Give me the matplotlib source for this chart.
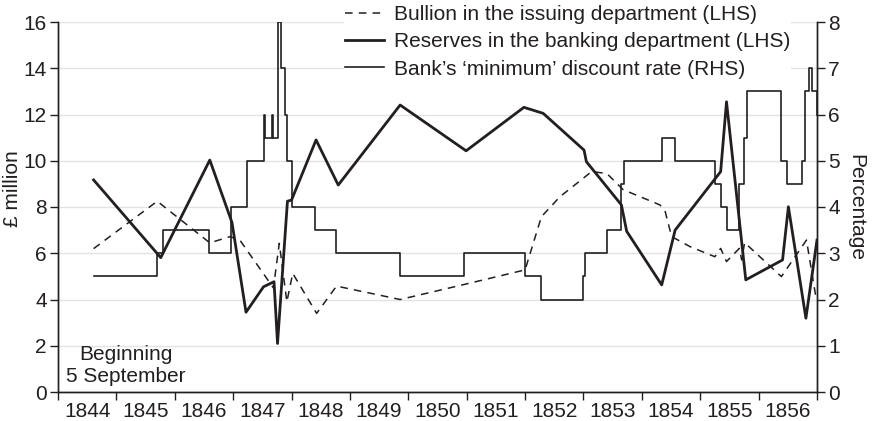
import matplotlib
matplotlib.use("Agg")
import matplotlib.pyplot as plt

plt.rcParams['font.family'] = ['Liberation Sans', 'DejaVu Sans']

# years from the start of the Bank Charter Act data (Sep 1844), 0..13
year_labels = [str(y) for y in range(1844, 1857)]

bullion_t = [0.61, 1.70, 2.60, 2.95, 3.12, 3.69, 3.79, 3.92, 4.02, 4.43, 4.77,
             5.86, 6.94, 8.00, 8.28, 8.60, 9.14, 9.40, 9.68, 10.31, 10.40,
             10.51, 10.83, 11.25, 11.35, 11.45, 11.67, 11.71, 11.76, 12.39,
             12.82, 12.98]
bullion_v = [6.2, 8.25, 6.45, 6.72, 6.55, 4.5, 6.43, 3.9, 5.13, 3.4, 4.58,
             4.0, 4.64, 5.28, 7.58, 8.45, 9.53, 9.45, 8.75, 8.09, 7.8,
             6.72, 6.28, 5.85, 6.21, 5.64, 6.21, 5.71, 6.46, 4.99,
             6.57, 4.12]

reserves_t = [0.61, 1.76, 2.60, 2.98, 3.22, 3.52, 3.70, 3.76, 3.93, 4.00, 4.42,
              4.80, 5.86, 6.99, 7.98, 8.31, 9.01, 9.05, 9.65, 9.74, 10.34,
              10.57, 11.35, 11.45, 11.78, 12.41, 12.51, 12.81, 13.0]
reserves_v = [9.17, 5.81, 10.03, 7.33, 3.45, 4.55, 4.77, 2.1, 8.25, 8.3, 10.9,
              8.95, 12.41, 10.43, 12.31, 12.05, 10.46, 9.96, 8.09, 6.95, 4.63,
              7.0, 9.53, 12.55, 4.85, 5.71, 8.01, 3.19, 6.57]

rate_t = [0.61, 1.70, 1.79, 2.59, 2.96, 3.23, 3.52, 3.55, 3.66, 3.69, 3.76,
          3.82, 3.88, 3.93, 4.01, 4.41, 4.77, 5.85, 6.95, 8.00, 8.28, 8.99,
          9.03, 9.40, 9.64, 9.70, 10.34, 10.57, 11.25, 11.35, 11.45, 11.67,
          11.75, 11.80, 12.38, 12.48, 12.75, 12.79, 12.86, 12.91, 13.0]
rate_v = [2.5, 3.0, 3.5, 3.0, 4.0, 5.0, 6.0, 5.5, 6.0, 5.5, 8.0,
          7.0, 6.0, 5.0, 4.0, 3.5, 3.0, 2.5, 3.0, 2.5, 2.0, 2.5,
          3.0, 3.5, 4.5, 5.0, 5.5, 5.0, 4.5, 4.0, 3.5, 4.5,
          5.5, 6.5, 5.0, 4.5, 5.0, 6.5, 7.0, 6.5, 6.0]

ink = '#231f20'
fs = 15

fig = plt.figure(figsize=(8.73, 4.21), dpi=100)
ax = fig.add_axes([58 / 873, 1 - 392 / 421, (817 - 58) / 873, (392 - 22) / 421])
ax2 = ax.twinx()

l1, = ax.plot(bullion_t, bullion_v, color=ink, lw=1.1, ls=(0, (5, 4)),
              label='Bullion in the issuing department (LHS)')
l2, = ax.plot(reserves_t, reserves_v, color=ink, lw=2.0,
              label='Reserves in the banking department (LHS)')
l3, = ax2.plot(rate_t, rate_v, color=ink, lw=1.2, drawstyle='steps-post',
               label='Bank\u2019s \u2018minimum\u2019 discount rate (RHS)')

ax.set_xlim(0, 13)
ax.set_ylim(0, 16)
ax2.set_ylim(0, 8)
ax.set_yticks(range(0, 17, 2))
ax2.set_yticks(range(0, 9))

ax.set_xticks(range(0, 14))
ax.set_xticklabels([])
ax.set_xticks([i + 0.5 for i in range(13)], minor=True)
ax.set_xticklabels(year_labels, minor=True)
ax.tick_params(axis='x', which='minor', length=0, pad=7)
ax.tick_params(axis='x', which='major', length=6, width=1, color=ink)
ax.tick_params(axis='both', which='both', labelsize=fs, labelcolor=ink)
ax.tick_params(axis='y', length=6, width=1, color=ink, pad=2)
ax2.tick_params(axis='y', length=6, width=1, color=ink, pad=2, labelsize=fs, labelcolor=ink)

ax.grid(axis='y', color='#e3e3e3', lw=1.0)
ax.set_axisbelow(True)

for a in (ax, ax2):
    a.spines['top'].set_visible(False)
    for s in ('left', 'right', 'bottom'):
        a.spines[s].set_color(ink)
        a.spines[s].set_linewidth(1.0)

ax.set_ylabel('\u00a3 million', fontsize=fs, color=ink)
ax.yaxis.set_label_coords(-0.047, 0.55)
ax2.set_ylabel('Percentage', fontsize=fs, color=ink, rotation=270, labelpad=18)

ax.text(1.16, 1.15, 'Beginning\n5 September', ha='center', va='center',
        fontsize=fs, color=ink, linespacing=1.15)

leg = ax2.legend(handles=[l1, l2, l3], loc='upper left',
                 bbox_to_anchor=(344 / 873, 1 - 4 / 421), bbox_transform=fig.transFigure,
                 fontsize=fs, frameon=True, facecolor='white', edgecolor='none',
                 framealpha=1, fancybox=False, handlelength=1.85, handletextpad=0.5,
                 labelspacing=0.4, borderpad=0.05, borderaxespad=0)
for t in leg.get_texts():
    t.set_color(ink)

fig.savefig('out.png', dpi=100)
plt.close(fig)
